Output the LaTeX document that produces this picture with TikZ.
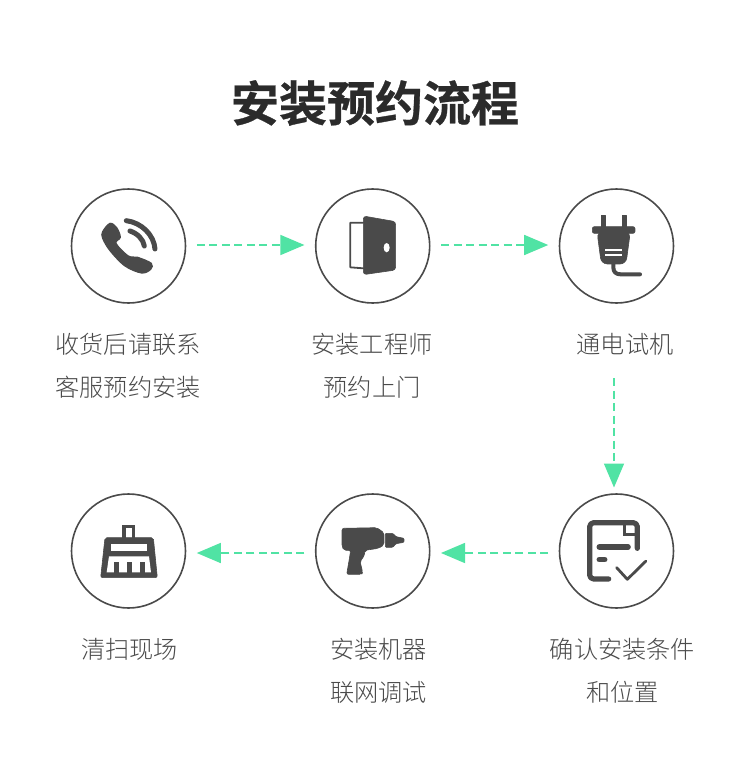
\documentclass[tikz,border=0pt]{standalone}
\usepackage{fontspec}
\setmainfont{Noto Sans CJK SC Light}
\newfontfamily\titlefont[FakeBold=0.6]{Noto Sans CJK SC Bold}
\usetikzlibrary{arrows.meta}
\definecolor{icongray}{HTML}{4A4A4A}
\definecolor{flowgreen}{HTML}{50E3A4}
\definecolor{titleblack}{HTML}{2B2B2B}

\begin{document}
\begin{tikzpicture}[
		x=1pt, y=-1pt,
		stepcircle/.style={draw=icongray, line width=1.6pt, circle, minimum size=114pt, inner sep=0pt},
		steplabel/.style={align=center, text=icongray, font=\fontsize{24.2}{43}\selectfont, inner sep=0pt},
		flow/.style={draw=flowgreen, line width=1.5pt, dash pattern=on 8pt off 4.5pt,
			-{Triangle[length=24pt, width=20pt, fill=flowgreen]}, shorten <=10.5pt, shorten >=10.5pt},
		iconpart/.style={x=0.3333pt, y=-0.3333pt},
		iconfill/.style={fill=icongray, draw=icongray, line width=0.6pt, line join=round},
		iconline/.style={draw=icongray, line cap=round, line join=round}
	]
	\useasboundingbox (0,0) rectangle (750,760);
	\fill[white] (0,0) rectangle (750,760);

	\node[font=\fontsize{48}{48}\titlefont, text=titleblack] (title) at (375,103) {安装预约流程};

	% circles
	\node[stepcircle] (call) at (128.5,246) {};
	\node[stepcircle] (door) at (372.7,246) {};
	\node[stepcircle] (plug) at (616.5,246) {};
	\node[stepcircle] (check) at (616.5,551) {};
	\node[stepcircle] (drill) at (372.7,551) {};
	\node[stepcircle] (brush) at (128.5,551) {};

	% labels
	\node[steplabel] (calltext) at (128,366) {收货后请联系\\客服预约安装};
	\node[steplabel] (doortext) at (372,366) {安装工程师\\预约上门};
	\node[steplabel] (plugtext) at (625,344) {通电试机};
	\node[steplabel] (checktext) at (622.5,671) {确认安装条件\\和位置};
	\node[steplabel] (drilltext) at (378.5,671) {安装机器\\联网调试};
	\node[steplabel] (brushtext) at (129.5,649) {清扫现场};

	% connectors
	\coordinate (plugfoot) at (614,367.5);
	\coordinate (checkhead) at (614,498);
	\draw[flow] ([yshift=1pt]call.east) -- ([yshift=1pt]door.west);
	\draw[flow] ([yshift=1pt]door.east) -- ([yshift=1pt]plug.west);
	\draw[flow] (plugfoot) -- (checkhead);
	\draw[flow] ([yshift=-2pt]check.west) -- ([yshift=-2pt]drill.east);
	\draw[flow] ([yshift=-2pt]drill.west) -- ([yshift=-2pt]brush.east);

	% phone
	\begin{scope}[shift={(60,180)}, iconpart]
		\fill[iconfill, line width=1.2pt] plot[smooth cycle, tension=0.55] coordinates {(128,155) (150,130) (170,143) (181,172) (168,190) (205,228) (233,232) (274,250) (272,268) (245,279) (195,258) (150,212) (128,175)};
		\draw[iconline, line width=5pt] (199,122) .. controls (245,128) and (282,165) .. (285,207);
		\draw[iconline, line width=5pt] (210,153) .. controls (232,160) and (250,178) .. (253,198);
	\end{scope}

	% door
	\begin{scope}[shift={(310,180)}, iconpart]
		\draw[iconline, line width=1.8pt] (160,128) -- (121,128) -- (121,262) -- (160,265);
		\fill[iconfill, rounded corners=3pt] (160,108) -- (257,125) -- (257,270) -- (160,284) -- cycle;
		\fill[white] (230,203) ellipse [x radius=9, y radius=14];
	\end{scope}

	% plug
	\begin{scope}[shift={(550,180)}, iconpart]
		\fill[iconfill] (153,105) rectangle (165,145);
		\fill[iconfill] (217,105) rectangle (229,145);
		\fill[iconfill, rounded corners=2pt] (127,140) rectangle (255,160);
		\fill[iconfill, rounded corners=6pt] (141,155) -- (241,155) -- (228,252) -- (154,252) -- cycle;
		\fill[white] (165,206) rectangle (217,213);
		\fill[white] (165,221) rectangle (217,228);
		\draw[iconline, line width=4pt] (190,250) -- (190,262) .. controls (190,276) and (198,283) .. (212,283) -- (270,283);
	\end{scope}

	% check list
	\begin{scope}[shift={(550,485)}, iconpart]
		\draw[iconline, line width=5.2pt, rounded corners=4pt] (262,190) -- (262,113) -- (119,113) -- (119,282) -- (176,282);
		\draw[iconline, line width=3pt, line join=miter] (224,117) -- (224,148) -- (258,148);
		\draw[iconline, line width=5.6pt] (148,186) -- (234,186);
		\draw[iconline, line width=5.6pt] (148,224) -- (164,224);
		\draw[iconline, line width=2.8pt] (200,248) -- (232,283) -- (288,228);
	\end{scope}

	% drill
	\begin{scope}[shift={(310,485)}, iconpart]
		\fill[iconfill, rounded corners=2pt] (96,130) -- (200,128) -- (222,143) -- (222,180) -- (205,190) -- (165,196) -- (162,215) -- (150,228) -- (158,262) -- (155,268) -- (110,268) -- (118,222) -- (122,196) -- (102,196) -- (96,185) -- cycle;
		\fill[iconfill, rounded corners=1pt] (226,145) -- (248,145) -- (258,155) -- (282,160) -- (282,172) -- (258,176) -- (248,187) -- (226,187) -- cycle;
	\end{scope}

	% brush
	\begin{scope}[shift={(65,485)}, iconpart]
		\draw[iconline, line width=3.2pt, line join=miter] (177,160) -- (177,124) -- (206,124) -- (206,160);
		\fill[iconfill, rounded corners=2pt] (120,158) -- (265,158) -- (277,278) -- (107,278) -- cycle;
		\fill[white] (138,178) rectangle (246,198);
		\fill[white] (132,214) -- (252,214) -- (258,262) -- (125,262) -- cycle;
		\fill[icongray] (147,232) rectangle (163,264);
		\fill[icongray] (186,232) rectangle (202,264);
		\fill[icongray] (225,232) rectangle (241,264);
	\end{scope}
\end{tikzpicture}
\end{document}
